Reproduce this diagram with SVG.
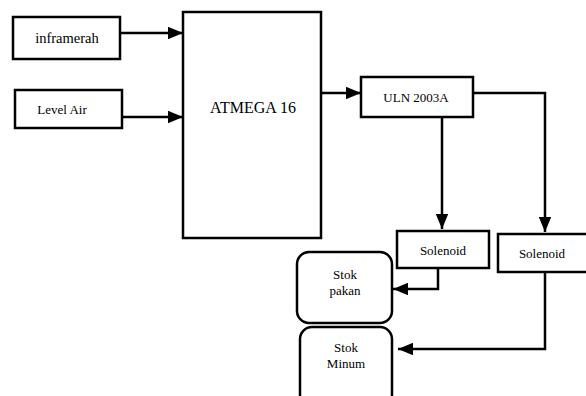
<svg xmlns="http://www.w3.org/2000/svg" width="586" height="396" viewBox="0 0 586 396">
<style>
.box{fill:#fff;stroke:#000;stroke-width:2.5}
.ln{fill:none;stroke:#000;stroke-width:2.5}
.t{font-family:"Liberation Serif","Times New Roman",Times,Tinos,"DejaVu Serif","Noto Serif",serif;fill:#000;text-anchor:middle}
</style>
<defs>
<marker id="ah" markerWidth="6" markerHeight="5" refX="6" refY="2.5" orient="auto" markerUnits="strokeWidth">
<path d="M0,0 L6,2.5 L0,5 Z" fill="#000"/>
</marker>
</defs>
<rect width="586" height="396" fill="#fff"/>
<g id="connectors">
<line class="ln" x1="120" y1="33" x2="183" y2="33" marker-end="url(#ah)"/>
<line class="ln" x1="122" y1="117" x2="183" y2="117" marker-end="url(#ah)"/>
<line class="ln" x1="321" y1="93" x2="361" y2="93" marker-end="url(#ah)"/>
<line class="ln" x1="442" y1="117" x2="442" y2="229" marker-end="url(#ah)"/>
<polyline class="ln" points="473,93 545,93 545,232" marker-end="url(#ah)"/>
<polyline class="ln" points="438,268 438,289 393,289" marker-end="url(#ah)"/>
<polyline class="ln" points="545,272 545,349 398,349" marker-end="url(#ah)"/>
</g>
<g id="inframerah">
<rect class="box" x="13" y="17" width="107" height="42"/>
<text class="t" x="67" y="43" font-size="14.5">inframerah</text>
</g>
<g id="level-air">
<rect class="box" x="15" y="90" width="107" height="38"/>
<text class="t" x="62" y="114" font-size="13">Level Air</text>
</g>
<g id="atmega">
<rect class="box" x="183" y="12" width="138" height="226"/>
<text class="t" x="253" y="113" font-size="16">ATMEGA 16</text>
</g>
<g id="uln">
<rect class="box" x="361" y="77" width="112" height="40"/>
<text class="t" x="416" y="102" font-size="13">ULN 2003A</text>
</g>
<g id="solenoid1">
<rect class="box" x="397" y="231" width="92" height="37"/>
<text class="t" x="443" y="255" font-size="13">Solenoid</text>
</g>
<g id="solenoid2">
<rect class="box" x="498" y="234" width="90" height="38"/>
<text class="t" x="542" y="258" font-size="13">Solenoid</text>
</g>
<g id="stok-pakan">
<rect class="box" x="297" y="252" width="95" height="71" rx="12"/>
<text class="t" x="345" y="279" font-size="13">Stok</text>
<text class="t" x="345" y="295" font-size="13">pakan</text>
</g>
<g id="stok-minum">
<rect class="box" x="300" y="327" width="92" height="80" rx="12"/>
<text class="t" x="346" y="352" font-size="13">Stok</text>
<text class="t" x="346" y="368" font-size="13">Minum</text>
</g>
</svg>
